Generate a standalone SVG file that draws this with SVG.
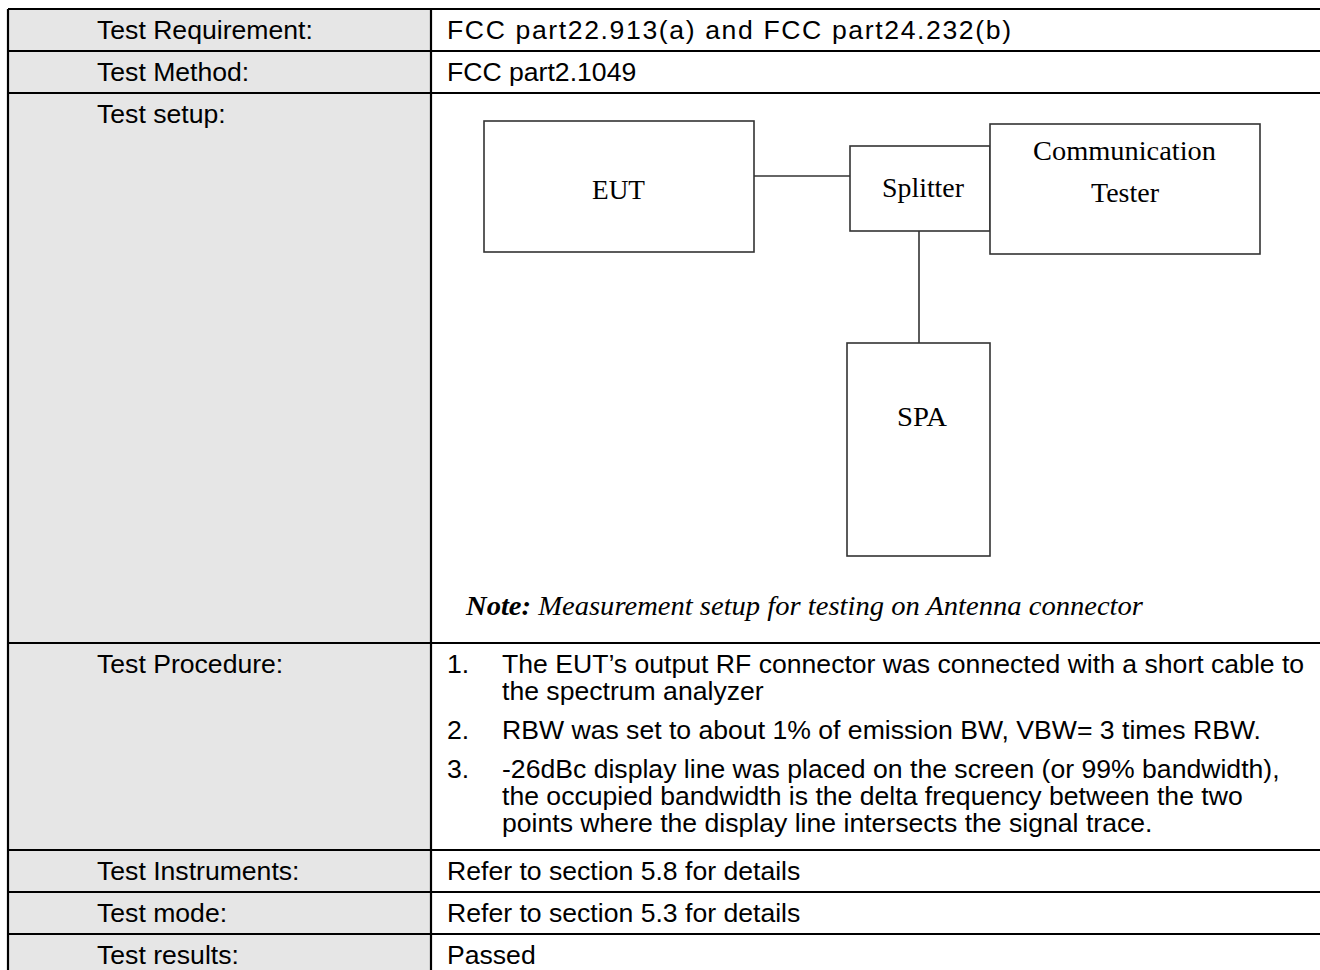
<svg xmlns="http://www.w3.org/2000/svg" width="1320" height="970" viewBox="0 0 1320 970">
<style>
.lbl{font-family:"Liberation Sans",Arial,sans-serif;font-size:26.6px;fill:#000}
.val{font-family:"Liberation Sans",Arial,sans-serif;font-size:26.6px;fill:#000}
.ser{font-family:"Liberation Serif","Times New Roman",serif;font-size:27.5px;fill:#000}
.box{fill:#fff;stroke:#333;stroke-width:1.6}
.wire{stroke:#333;stroke-width:1.6;fill:none}
.grid{stroke:#000;stroke-width:2.2;fill:none}
</style>
<rect x="0" y="0" width="1320" height="970" fill="#fff"/>
<g id="table">
<rect x="8" y="9" width="423" height="961" fill="#e6e6e6"/>
<path class="grid" d="M8 9V970M431 9V970M8 9H1320M8 51H1320M8 93H1320M8 643H1320M8 850H1320M8 892H1320M8 934H1320"/>
</g>
<g id="labels">
<text class="lbl" x="97" y="39">Test Requirement:</text>
<text class="lbl" x="97" y="81">Test Method:</text>
<text class="lbl" x="97" y="123">Test setup:</text>
<text class="lbl" x="97" y="673">Test Procedure:</text>
<text class="lbl" x="97" y="880">Test Instruments:</text>
<text class="lbl" x="97" y="922">Test mode:</text>
<text class="lbl" x="97" y="964">Test results:</text>
</g>
<g id="values">
<text class="val" x="447" y="39" textLength="564" lengthAdjust="spacing">FCC part22.913(a) and FCC part24.232(b)</text>
<text class="val" x="447" y="81">FCC part2.1049</text>
<text class="val" x="447" y="673">1.</text>
<text class="val" x="502" y="673">The EUT’s output RF connector was connected with a short cable to</text>
<text class="val" x="502" y="700">the spectrum analyzer</text>
<text class="val" x="447" y="739">2.</text>
<text class="val" x="502" y="739">RBW was set to about 1% of emission BW, VBW= 3 times RBW.</text>
<text class="val" x="447" y="778">3.</text>
<text class="val" x="502" y="778">-26dBc display line was placed on the screen (or 99% bandwidth),</text>
<text class="val" x="502" y="805">the occupied bandwidth is the delta frequency between the two</text>
<text class="val" x="502" y="832">points where the display line intersects the signal trace.</text>
<text class="val" x="447" y="880">Refer to section 5.8 for details</text>
<text class="val" x="447" y="922">Refer to section 5.3 for details</text>
<text class="val" x="447" y="964">Passed</text>
</g>
<g id="connectors">
<line class="wire" x1="754" y1="176" x2="850" y2="176"/>
<line class="wire" x1="919" y1="231" x2="919" y2="343"/>
</g>
<g id="eut">
<rect class="box" x="484" y="121" width="270" height="131"/>
<text class="ser" x="592" y="199" textLength="53" lengthAdjust="spacingAndGlyphs">EUT</text>
</g>
<g id="splitter">
<rect class="box" x="850" y="146" width="140" height="85"/>
<text class="ser" x="882" y="197" textLength="82" lengthAdjust="spacingAndGlyphs">Splitter</text>
</g>
<g id="comm-tester">
<rect class="box" x="990" y="124" width="270" height="130"/>
<text class="ser" x="1033" y="160" textLength="183" lengthAdjust="spacingAndGlyphs">Communication</text>
<text class="ser" x="1091" y="202" textLength="68" lengthAdjust="spacingAndGlyphs">Tester</text>
</g>
<g id="spa">
<rect class="box" x="847" y="343" width="143" height="213"/>
<text class="ser" x="897" y="426" textLength="50" lengthAdjust="spacingAndGlyphs">SPA</text>
</g>
<g id="note">
<text class="ser" x="466" y="615" font-style="italic" textLength="677" lengthAdjust="spacingAndGlyphs"><tspan font-weight="bold">Note:</tspan> Measurement setup for testing on Antenna connector</text>
</g>
</svg>
